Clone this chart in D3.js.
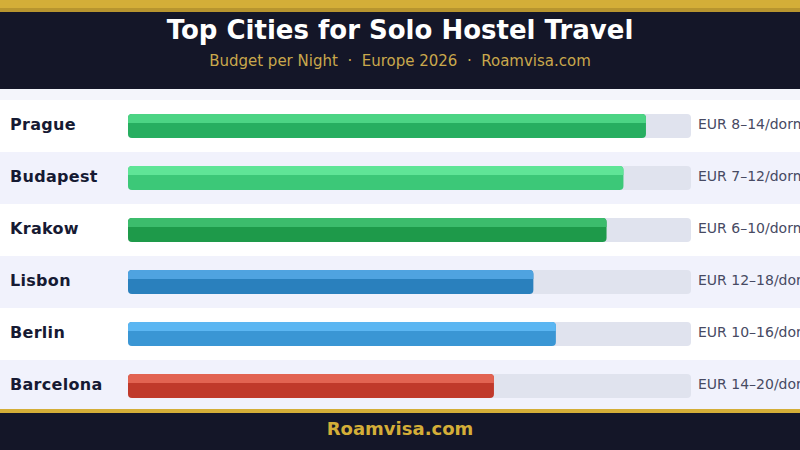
<!DOCTYPE html>
<html><head><meta charset="utf-8">
<script src="https://cdn.jsdelivr.net/npm/d3@7"></script>
<style>html,body{margin:0;padding:0;background:#f4f5fb;}svg{display:block;font-family:"DejaVu Sans",sans-serif;}</style>
</head><body><svg id="c" width="800" height="450"></svg>
<script>
const cities = ["Prague","Budapest","Krakow","Lisbon","Berlin","Barcelona"];
const scores = [92, 88, 85, 72, 76, 65];
const priceLabels = ["EUR 8–14/dorm","EUR 7–12/dorm","EUR 6–10/dorm","EUR 12–18/dorm","EUR 10–16/dorm","EUR 14–20/dorm"];
const barColors = ["#27ae60","#3cc878","#1e9a4a","#2a80bd","#3a96d4","#c0392b"];
const topColors = ["#4cd484","#5fe597","#3cbc6c","#4fa3e0","#5bb6f2","#e26352"];

const W = 800, H = 450;
const svg = d3.select("#c");

svg.append("rect").attr("width",W).attr("height",H).attr("fill","#f4f5fb");

// header
svg.append("rect").attr("x",0).attr("y",0).attr("width",W).attr("height",89).attr("fill","#141628");
svg.append("rect").attr("x",0).attr("y",0).attr("width",W).attr("height",8).attr("fill","#d4ae38");
svg.append("rect").attr("x",0).attr("y",8).attr("width",W).attr("height",4).attr("fill","#b8952f");
svg.append("text").attr("x",W/2).attr("y",39).attr("text-anchor","middle")
  .attr("fill","#ffffff").attr("font-weight","bold").attr("font-size",26)
  .text("Top Cities for Solo Hostel Travel");
svg.append("text").attr("x",W/2).attr("y",66).attr("text-anchor","middle")
  .attr("fill","#c9a84c").attr("font-size",15).attr("xml:space","preserve")
  .text("Budget per Night  ·  Europe 2026  ·  Roamvisa.com");

// rows
const y = d3.scaleBand().domain(cities).range([100,412]).padding(0);
const x = d3.scaleLinear().domain([0,100]).range([128,691]);
const bh = 24, r = 4;

const rows = svg.append("g").selectAll("g").data(cities).join("g")
  .attr("transform", d => `translate(0,${y(d)})`);

rows.append("rect").attr("x",0).attr("y",0).attr("width",W).attr("height",y.bandwidth())
  .attr("fill",(d,i)=> i%2===0 ? "#ffffff" : "#f1f2fc");

const by = (y.bandwidth()-bh)/2;
rows.append("rect").attr("x",x(0)).attr("y",by).attr("width",x(100)-x(0)).attr("height",bh)
  .attr("rx",r).attr("fill","#e0e3ee");

rows.append("rect").attr("x",x(0)).attr("y",by).attr("width",(d,i)=>x(scores[i])-x(0)).attr("height",bh)
  .attr("rx",r).attr("fill",(d,i)=>barColors[i]);
rows.append("path").attr("d",(d,i)=>{
  const x0=x(0), x1=x(scores[i]), y0=by, h=9;
  return `M${x0},${y0+h} L${x0},${y0+r} Q${x0},${y0} ${x0+r},${y0} L${x1-r},${y0} Q${x1},${y0} ${x1},${y0+r} L${x1},${y0+h} Z`;
}).attr("fill",(d,i)=>topColors[i]);

rows.append("text").attr("x",10).attr("y",y.bandwidth()/2+4)
  .attr("font-weight","bold").attr("font-size",16).attr("fill","#161a33").attr("letter-spacing",0.3)
  .text(d=>d);

rows.append("text").attr("x",698).attr("y",y.bandwidth()/2+3)
  .attr("font-size",14).attr("fill","#474a63")
  .text((d,i)=>priceLabels[i]);

// footer
svg.append("rect").attr("x",0).attr("y",409).attr("width",W).attr("height",4).attr("fill","#d4ae38");
svg.append("rect").attr("x",0).attr("y",413).attr("width",W).attr("height",37).attr("fill","#141628");
svg.append("text").attr("x",W/2).attr("y",435).attr("text-anchor","middle")
  .attr("fill","#d4ae38").attr("font-weight","bold").attr("font-size",18)
  .text("Roamvisa.com");
</script></body></html>
